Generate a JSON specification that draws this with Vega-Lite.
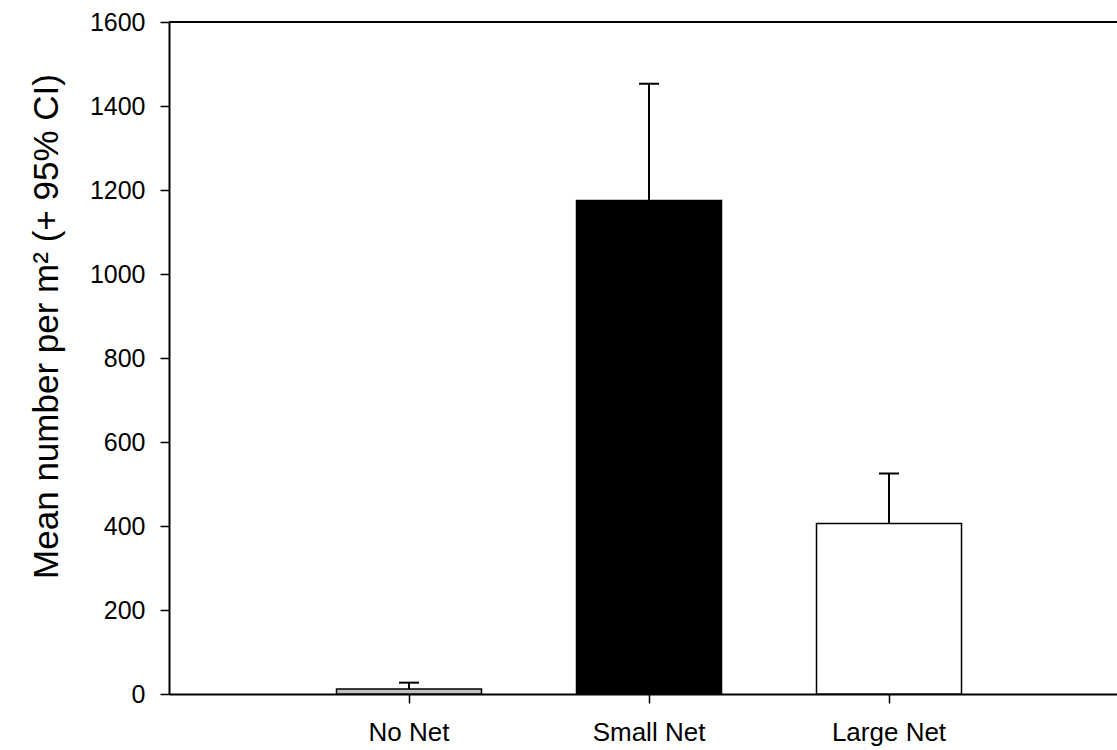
{
  "$schema": "https://vega.github.io/schema/vega-lite/v6.json",
  "autosize": "none",
  "width": 948,
  "height": 672,
  "padding": {"left": 169, "top": 22, "right": 0, "bottom": 56},
  "background": "white",
  "config": {
    "view": {"stroke": null},
    "font": "Liberation Sans",
    "axis": {
      "grid": false,
      "domainColor": "black",
      "domainWidth": 2,
      "tickColor": "black",
      "tickWidth": 1.5,
      "tickSize": 9,
      "labelColor": "black",
      "labelFont": "Liberation Sans",
      "titleFont": "Liberation Sans",
      "titleColor": "black",
      "titleFontWeight": "normal"
    },
    "axisX": {"labelFontSize": 26, "labelPadding": 16, "labelAngle": 0},
    "axisY": {
      "labelFontSize": 25,
      "labelPadding": 15,
      "titleFontSize": 35,
      "titleAngle": -90,
      "titleAlign": "center",
      "titleBaseline": "alphabetic",
      "titleX": -112,
      "titleY": 304
    }
  },
  "data": {
    "values": [
      {"treatment": "No Net", "mean": 12, "upper": 27},
      {"treatment": "Small Net", "mean": 1175, "upper": 1453},
      {"treatment": "Large Net", "mean": 406, "upper": 525}
    ]
  },
  "layer": [
    {
      "mark": {"type": "bar", "stroke": "black", "strokeWidth": 1.5},
      "encoding": {
        "x": {
          "field": "treatment",
          "type": "nominal",
          "sort": ["No Net", "Small Net", "Large Net"],
          "title": null,
          "scale": {"paddingInner": 0.3958, "paddingOuter": 0.6729, "align": 0.5186, "round": false}
        },
        "y": {
          "field": "mean",
          "type": "quantitative",
          "title": "Mean number per m² (+ 95% CI)",
          "scale": {"domain": [0, 1600], "nice": false},
          "axis": {"values": [0, 200, 400, 600, 800, 1000, 1200, 1400, 1600], "format": "d"}
        },
        "fill": {
          "field": "treatment",
          "type": "nominal",
          "scale": {"domain": ["No Net", "Small Net", "Large Net"], "range": ["#c0c0c0", "#000000", "#ffffff"]},
          "legend": null
        }
      }
    },
    {
      "mark": {"type": "rule", "strokeWidth": 2, "color": "black"},
      "encoding": {
        "x": {"field": "treatment", "type": "nominal", "sort": ["No Net", "Small Net", "Large Net"], "title": null},
        "y": {"field": "mean", "type": "quantitative", "title": "Mean number per m² (+ 95% CI)"},
        "y2": {"field": "upper"}
      }
    },
    {
      "mark": {"type": "tick", "size": 20, "thickness": 2, "color": "black", "opacity": 1},
      "encoding": {
        "x": {"field": "treatment", "type": "nominal", "sort": ["No Net", "Small Net", "Large Net"], "title": null},
        "y": {"field": "upper", "type": "quantitative", "title": "Mean number per m² (+ 95% CI)"}
      }
    },
    {
      "mark": {"type": "rule", "strokeWidth": 2, "color": "black"},
      "encoding": {
        "y": {"datum": 1600}
      }
    }
  ]
}
